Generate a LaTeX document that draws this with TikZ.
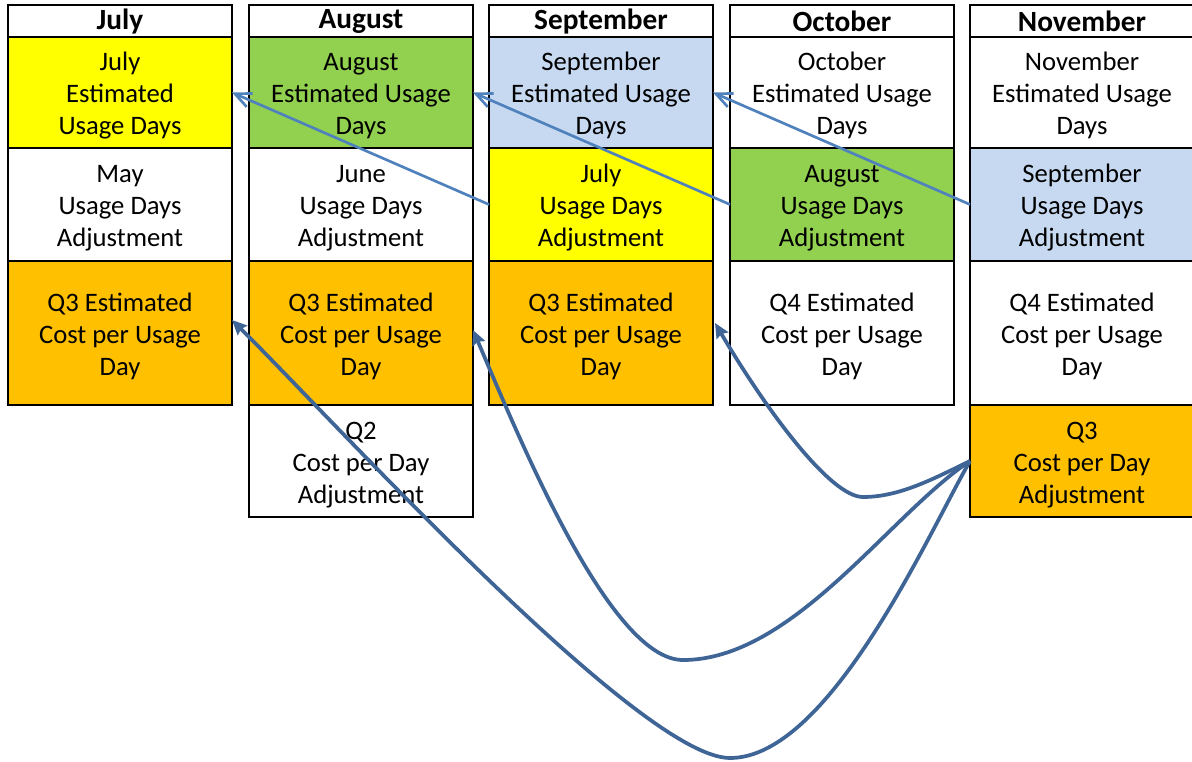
\documentclass[tikz,border=0pt]{standalone}
\usepackage{fontspec}
\setmainfont{Carlito}
\usetikzlibrary{arrows.meta,calc}
\definecolor{cyel}{HTML}{FFFF00}
\definecolor{cgrn}{HTML}{92D050}
\definecolor{cblu}{HTML}{C6D9F1}
\definecolor{corg}{HTML}{FFC000}
\definecolor{arrL}{HTML}{4F81BD}
\definecolor{arrD}{HTML}{3F6597}
\newcommand\tx[1]{\raisebox{-3pt}[\height][\depth]{\begin{tabular}{@{}c@{}}#1\end{tabular}}}
\newcommand\hx[1]{\raisebox{-0.4pt}[\height][\depth]{#1}}
\tikzset{
 cell/.style={draw=black, line width=1.6pt, inner sep=0pt, outer sep=0pt,
   minimum width=168pt, anchor=north west, font=\fontsize{20}{24}\selectfont},
 hdr/.style={cell, minimum height=24pt, font=\bfseries\fontsize{22}{24}\selectfont},
 rA/.style={cell, minimum height=83.25pt},
 rB/.style={cell, minimum height=84.75pt},
 rC/.style={cell, minimum height=108pt},
 rD/.style={cell, minimum height=84pt},
 lightarrow/.style={draw=arrL, line width=2pt, -{Straight Barb[length=12pt,width=11pt,line width=2pt]}},
 darkarrow/.style={draw=arrD, line width=2.8pt, -{Stealth[length=11pt,width=10pt,inset=1.5pt]}},
}
\begin{document}
\begin{tikzpicture}[x=0.75pt,y=-0.75pt]
\useasboundingbox (0,0) rectangle (1192,761);
\clip (0,0) rectangle (1192,761);
% July
\node[hdr] (julh) at (8,5) {\hx{July}};
\node[rA, fill=cyel] (jul1) at (8,37) {\tx{July\\Estimated\\Usage Days}};
\node[rB, fill=white] (jul2) at (8,148) {\tx{May\\Usage Days\\Adjustment}};
\node[rC, fill=corg] (jul3) at (8,261) {\tx{Q3 Estimated\\Cost per Usage\\Day}};
% August
\node[hdr] (augh) at (249,5) {\hx{August}};
\node[rA, fill=cgrn] (aug1) at (249,37) {\tx{August\\Estimated Usage\\Days}};
\node[rB, fill=white] (aug2) at (249,148) {\tx{June\\Usage Days\\Adjustment}};
\node[rC, fill=corg] (aug3) at (249,261) {\tx{Q3 Estimated\\Cost per Usage\\Day}};
\node[rD, fill=white] (aug4) at (249,405) {\tx{Q2\\Cost per Day\\Adjustment}};
% September
\node[hdr] (seph) at (489,5) {\hx{September}};
\node[rA, fill=cblu] (sep1) at (489,37) {\tx{September\\Estimated Usage\\Days}};
\node[rB, fill=cyel] (sep2) at (489,148) {\tx{July\\Usage Days\\Adjustment}};
\node[rC, fill=corg] (sep3) at (489,261) {\tx{Q3 Estimated\\Cost per Usage\\Day}};
% October
\node[hdr] (octh) at (730,5) {\hx{October}};
\node[rA, fill=white] (oct1) at (730,37) {\tx{October\\Estimated Usage\\Days}};
\node[rB, fill=cgrn] (oct2) at (730,148) {\tx{August\\Usage Days\\Adjustment}};
\node[rC, fill=white] (oct3) at (730,261) {\tx{Q4 Estimated\\Cost per Usage\\Day}};
% November
\node[hdr] (novh) at (970,5) {\hx{November}};
\node[rA, fill=white] (nov1) at (970,37) {\tx{November\\Estimated Usage\\Days}};
\node[rB, fill=cblu] (nov2) at (970,148) {\tx{September\\Usage Days\\Adjustment}};
\node[rC, fill=white] (nov3) at (970,261) {\tx{Q4 Estimated\\Cost per Usage\\Day}};
\node[rD, fill=corg] (nov4) at (970,405) {\tx{Q3\\Cost per Day\\Adjustment}};
% straight arrows
\draw[lightarrow] (sep2.west) -- (jul1.east);
\draw[lightarrow] (oct2.west) -- (aug1.east);
\draw[lightarrow] (nov2.west) -- (sep1.east);
% curved arrows
\coordinate (tJul) at ($(jul3.east)+(0,-13)$);
\coordinate (tAug) at ($(aug3.east)+(0,-3)$);
\coordinate (tSep) at ($(sep3.east)+(2,-10)$);
\draw[darkarrow] (nov4.west) .. controls (935,478) and (900,497) .. (863,497)
   .. controls (830,497) and (765,408) .. (tSep);
\draw[darkarrow] (nov4.west) .. controls (890,514) and (793,660) .. (683,660)
   .. controls (610,660) and (520,440) .. (tAug);
\draw[darkarrow] (nov4.west) .. controls (930,530) and (830,758) .. (730,758)
   .. controls (640,758) and (333,420) .. (tJul);
\end{tikzpicture}
\end{document}
